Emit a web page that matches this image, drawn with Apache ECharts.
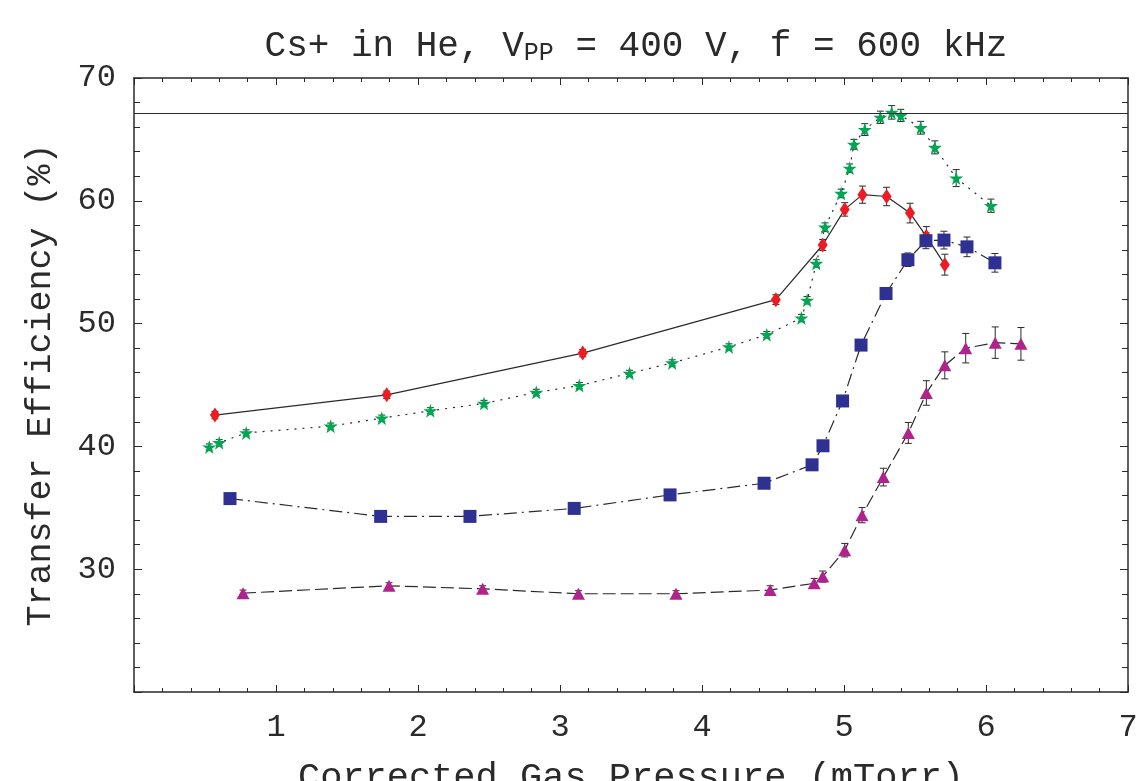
<!DOCTYPE html>
<html>
<head>
<meta charset="utf-8">
<script src="https://cdn.jsdelivr.net/npm/echarts@6/dist/echarts.min.js"></script>
<style>
  html, body {margin: 0; padding: 0; background: #fff;}
  #chart {width: 1144px; height: 781px;}
</style>
</head>
<body>
<div id="chart"></div>
<script>
// Cs+ in He, transfer efficiency vs corrected gas pressure
var redX = [0.57, 1.78, 3.16, 4.52, 4.85, 5.005, 5.13, 5.30, 5.465, 5.58, 5.71];
var redY = [42.55, 44.2, 47.6, 51.95, 56.4, 59.3, 60.5, 60.35, 59.0, 57.1, 54.8];
var redErr = [0.3, 0.3, 0.3, 0.4, 0.45, 0.55, 0.7, 0.75, 0.8, 0.8, 0.85];

var greenX = [0.53, 0.60, 0.79, 1.385, 1.745, 2.087, 2.465, 2.833, 3.136, 3.49, 3.79, 4.19, 4.456, 4.70,
  4.74, 4.805, 4.866, 4.98, 5.04, 5.07, 5.146, 5.256, 5.336, 5.40, 5.54, 5.64, 5.79, 6.035];
var greenY = [39.95, 40.3, 41.1, 41.65, 42.3, 42.9, 43.5, 44.4, 44.95, 45.95, 46.8, 48.1, 49.1, 50.45,
  51.9, 54.9, 57.85, 60.6, 62.65, 64.6, 65.8, 66.8, 67.2, 66.95, 65.95, 64.35, 61.85, 59.6];
var greenErr = [0.25, 0.25, 0.25, 0.25, 0.25, 0.25, 0.25, 0.25, 0.25, 0.25, 0.25, 0.25, 0.25, 0.3,
  0.3, 0.3, 0.35, 0.35, 0.35, 0.4, 0.48, 0.5, 0.55, 0.5, 0.52, 0.53, 0.69, 0.54];

var blueX = [0.676, 1.737, 2.366, 3.10, 3.775, 4.437, 4.775, 4.852, 4.99, 5.12, 5.296, 5.45, 5.577, 5.704, 5.866, 6.063];
var blueY = [35.75, 34.3, 34.3, 34.95, 36.05, 37.0, 38.5, 40.05, 43.7, 48.25, 52.45, 55.2, 56.75, 56.8, 56.25, 54.95];
var blueErr = [0.2, 0.2, 0.2, 0.2, 0.2, 0.2, 0.3, 0.3, 0.35, 0.4, 0.45, 0.55, 0.65, 0.72, 0.8, 0.76];

var purpleX = [0.768, 1.796, 2.455, 3.13, 3.817, 4.48, 4.79, 4.85, 5.005, 5.127, 5.277, 5.453, 5.58, 5.71, 5.857, 6.065, 6.246];
var purpleY = [28.05, 28.65, 28.4, 28.0, 28.0, 28.3, 28.85, 29.4, 31.55, 34.4, 37.5, 41.1, 44.35, 46.6, 48.0, 48.45, 48.35];
var purpleErr = [0.25, 0.25, 0.25, 0.25, 0.25, 0.35, 0.4, 0.45, 0.55, 0.62, 0.72, 0.85, 1.0, 1.1, 1.2, 1.28, 1.33];

var refLine = 67.1;
var xTicks = [0, 7, 1];   // min, max, interval
var yTicks = [20, 70, 10];

var FONT = '"Liberation Mono", "DejaVu Sans Mono", monospace';
var INK = '#2a2a2a';
var STAR = 'path://M50,0 L61,35 L98,35 L68,57 L79,91 L50,70 L21,91 L32,57 L2,35 L39,35 Z';

function pts(xs, ys) { return xs.map(function (x, i) { return [x, ys[i]]; }); }
function errPts(xs, ys, es) { return xs.map(function (x, i) { return [x, ys[i], es[i]]; }); }

function errRender(params, api) {
    var x = api.value(0), y = api.value(1), e = api.value(2);
    var t = api.coord([x, y + e]), b = api.coord([x, y - e]);
    var hw = 3.5;
    var st = {stroke: INK, lineWidth: 1};
    return {
        type: 'group',
        children: [
            {type: 'line', shape: {x1: t[0], y1: t[1], x2: b[0], y2: b[1]}, style: st},
            {type: 'line', shape: {x1: t[0] - hw, y1: t[1], x2: t[0] + hw, y2: t[1]}, style: st},
            {type: 'line', shape: {x1: b[0] - hw, y1: b[1], x2: b[0] + hw, y2: b[1]}, style: st}
        ]
    };
}

function errSeries(xs, ys, es) {
    return {type: 'custom', renderItem: errRender, data: errPts(xs, ys, es), z: 3, silent: true};
}

function lineSeries(xs, ys, color, symbol, size, dash) {
    return {
        type: 'line', data: pts(xs, ys), symbol: symbol, symbolSize: size, smooth: false,
        showAllSymbol: true, z: 4,
        itemStyle: {color: color, borderWidth: 0},
        lineStyle: {color: INK, width: 1.2, type: dash}
    };
}

function xAx(pos, labels) {
    return {
        type: 'value', position: pos, min: xTicks[0], max: xTicks[1], interval: xTicks[2],
        axisLine: {show: true, onZero: false, lineStyle: {color: INK, width: 1.5}},
        axisTick: {show: true, inside: true, length: 7, lineStyle: {color: INK}},
        minorTick: {show: true, splitNumber: 5, length: 4, lineStyle: {color: INK}},
        splitLine: {show: false},
        axisLabel: {
            show: labels, fontFamily: FONT, fontSize: 32, color: INK, margin: 20,
            formatter: function (v) { return v === 0 ? '' : v; }
        },
        name: labels ? 'Corrected Gas Pressure (mTorr)' : '',
        nameLocation: 'middle', nameGap: 68,
        nameTextStyle: {fontFamily: FONT, fontSize: 37, color: INK}
    };
}

function yAx(pos, labels) {
    return {
        type: 'value', position: pos, min: yTicks[0], max: yTicks[1], interval: yTicks[2],
        axisLine: {show: true, onZero: false, lineStyle: {color: INK, width: 1.5}},
        axisTick: {show: true, inside: true, length: 8, lineStyle: {color: INK}},
        minorTick: {show: true, splitNumber: 5, length: 6, lineStyle: {color: INK}},
        splitLine: {show: false},
        axisLabel: {
            show: labels, fontFamily: FONT, fontSize: 32, color: INK, margin: 18,
            formatter: function (v) { return v === 20 ? '' : v; }
        },
        name: labels ? 'Transfer Efficiency (%)' : '',
        nameLocation: 'middle', nameGap: 76,
        nameTextStyle: {fontFamily: FONT, fontSize: 35, color: INK}
    };
}

var chart = echarts.init(document.getElementById('chart'), null, {renderer: 'canvas'});

var red = lineSeries(redX, redY, '#ED1C24', 'diamond', [10, 15], 'solid');
red.markLine = {
    silent: true, symbol: ['none', 'none'], label: {show: false},
    lineStyle: {color: INK, width: 1.2, type: 'solid'},
    data: [{yAxis: refLine}]
};

chart.setOption({
    animation: false,
    backgroundColor: '#fff',
    title: {
        text: '{a|Cs+ in He, V}{s|PP}{a| = 400 V, f = 600 kHz}',
        left: 631, top: 22, textAlign: 'center',
        textStyle: {
            fontWeight: 'normal',
            rich: {
                a: {fontFamily: FONT, fontSize: 36, fontWeight: 'normal', color: INK},
                s: {fontFamily: FONT, fontSize: 25, fontWeight: 'normal', color: INK, verticalAlign: 'bottom', padding: [14, 0, 0, 0]}
            }
        }
    },
    grid: {left: 134, right: 16, top: 78, bottom: 89, containLabel: false, outerBoundsMode: 'none'},
    xAxis: [xAx('bottom', true), xAx('top', false)],
    yAxis: [yAx('left', true), yAx('right', false)],
    series: [
        errSeries(redX, redY, redErr),
        errSeries(greenX, greenY, greenErr),
        errSeries(blueX, blueY, blueErr),
        errSeries(purpleX, purpleY, purpleErr),
        red,
        lineSeries(greenX, greenY, '#00A651', STAR, 14, [2, 6]),
        lineSeries(blueX, blueY, '#2E3192', 'rect', 13, [13, 5, 2, 5]),
        lineSeries(purpleX, purpleY, '#B0228C', 'triangle', [13, 12], [13, 5])
    ]
});
</script>
</body>
</html>
